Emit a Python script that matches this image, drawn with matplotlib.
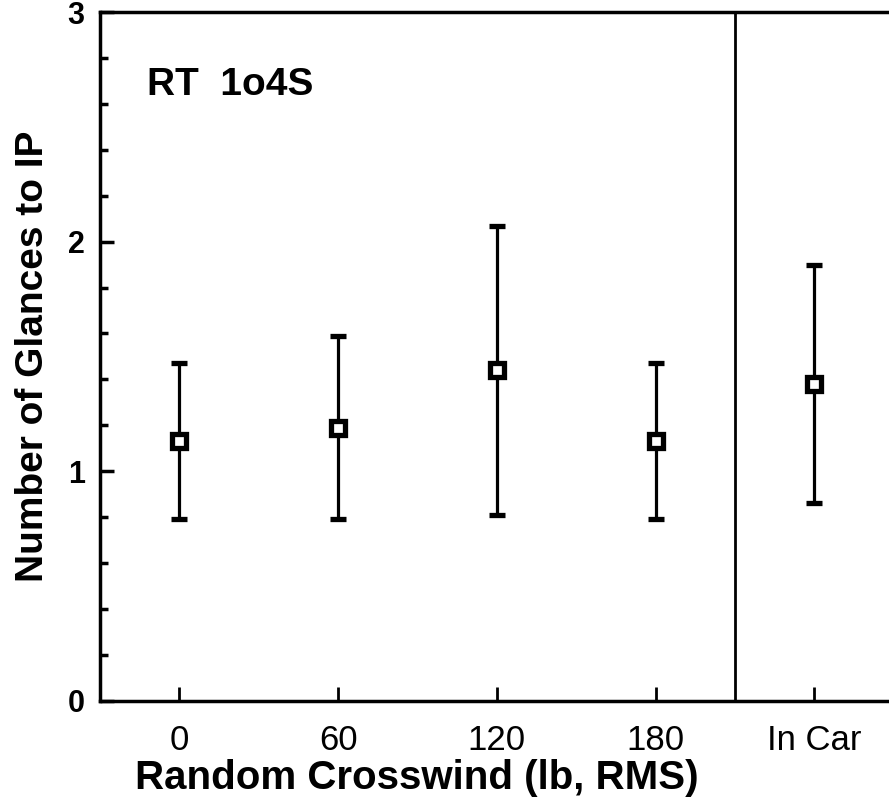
import numpy as np
import matplotlib.pyplot as plt
from matplotlib.ticker import MultipleLocator

# glances to IP by crosswind level, plus the in-car condition
conditions = ['0', '60', '120', '180', 'In Car']
means = [1.13, 1.19, 1.44, 1.13, 1.38]
sd = [0.34, 0.40, 0.63, 0.34, 0.52]

plt.rcParams['font.family'] = ['Liberation Sans', 'DejaVu Sans']

fig = plt.figure(figsize=(8.89, 8.0), dpi=100)
ax = fig.add_axes([0.1125, 0.124, 0.8875, 0.861])

x = np.arange(len(conditions))
ax.errorbar(x, means, yerr=sd, fmt='s', color='black', ecolor='black',
            elinewidth=2.3, capsize=5.5, capthick=4,
            markersize=10, markerfacecolor='white', markeredgecolor='black',
            markeredgewidth=3.8, zorder=3)

ax.axvline(3.5, color='black', lw=2)

ax.set_xlim(-0.5, 4.47)
ax.set_ylim(0, 3)
ax.set_xticks(x)
ax.set_xticklabels(conditions, family=['Liberation Sans Narrow', 'Liberation Sans'])
ax.set_yticks([0, 1, 2, 3])
ax.yaxis.set_minor_locator(MultipleLocator(0.2))

for s in ['left', 'bottom', 'top']:
    ax.spines[s].set_linewidth(2.5)
ax.spines['right'].set_visible(False)

ax.tick_params(axis='x', direction='in', length=10, width=2, pad=17, labelsize=25)
ax.tick_params(axis='y', which='major', direction='in', length=10, width=2.5, pad=11, labelsize=22)
ax.tick_params(axis='y', which='minor', direction='in', length=6, width=2.5)
for t in ax.get_yticklabels():
    t.set_fontweight('bold')

ax.set_xlabel('Random Crosswind (lb, RMS)', fontsize=29, fontweight='bold', labelpad=1)
ax.xaxis.label.set_x(0.402)
ax.set_ylabel('Number of Glances to IP', fontsize=28, fontweight='bold', labelpad=12)

ax.text(0.06, 0.894, 'RT  1o4S', transform=ax.transAxes, fontsize=28,
        fontweight='bold', va='center', ha='left')

fig.savefig('out.png', dpi=100)
